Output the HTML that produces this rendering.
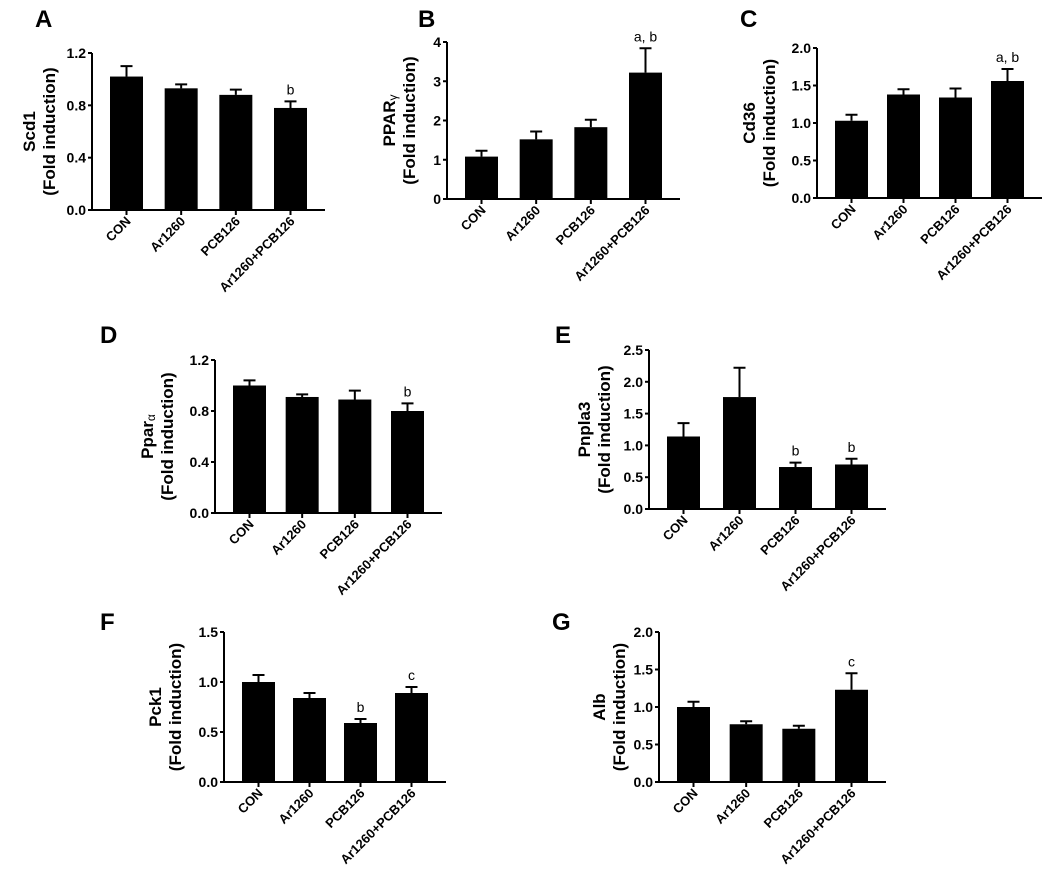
<!DOCTYPE html>
<html><head><meta charset="utf-8">
<style>
html,body{margin:0;padding:0;background:#fff;}
svg{display:block;font-family:"Liberation Sans",Arial,sans-serif;}
</style></head>
<body>
<svg id="fig" width="1050" height="879" viewBox="0 0 1050 879" xmlns="http://www.w3.org/2000/svg"></svg>
<script>
const categories = ["CON","Ar1260","PCB126","Ar1260+PCB126"];
const scd1Values = [1.02,0.93,0.88,0.78];
const scd1Errors = [0.08,0.03,0.04,0.05];
const scd1Marks = ["","","","b"];
const ppargValues = [1.08,1.52,1.83,3.22];
const ppargErrors = [0.15,0.20,0.19,0.62];
const ppargMarks = ["","","","a, b"];
const cd36Values = [1.03,1.38,1.34,1.56];
const cd36Errors = [0.08,0.07,0.12,0.16];
const cd36Marks = ["","","","a, b"];
const pparaValues = [1.00,0.91,0.89,0.80];
const pparaErrors = [0.04,0.02,0.07,0.06];
const pparaMarks = ["","","","b"];
const pnpla3Values = [1.14,1.76,0.66,0.70];
const pnpla3Errors = [0.21,0.46,0.07,0.09];
const pnpla3Marks = ["","","b","b"];
const pck1Values = [1.00,0.84,0.59,0.89];
const pck1Errors = [0.07,0.05,0.04,0.06];
const pck1Marks = ["","","b","c"];
const albValues = [1.00,0.77,0.71,1.23];
const albErrors = [0.07,0.04,0.04,0.22];
const albMarks = ["","","","c"];
const ticks12 = ["0.0","0.4","0.8","1.2"];
const ticks4 = ["0","1","2","3","4"];
const ticks20 = ["0.0","0.5","1.0","1.5","2.0"];
const ticks25 = ["0.0","0.5","1.0","1.5","2.0","2.5"];
const ticks15 = ["0.0","0.5","1.0","1.5"];

const NS="http://www.w3.org/2000/svg";
const svg=document.getElementById('fig');
function mk(tag,attrs,parent){const e=document.createElementNS(NS,tag);for(const k in attrs)e.setAttribute(k,attrs[k]);(parent||svg).appendChild(e);return e;}

const panels=[
 {id:'a',letter:'A',lx:35,ly:27,ax:92,end:325,top:53,bot:210,ticks:ticks12,gene:'Scd1',sub:'',vals:scd1Values,errs:scd1Errors,marks:scd1Marks,tx:40},
 {id:'b',letter:'B',lx:418,ly:27,ax:447,end:680,top:42,bot:199,ticks:ticks4,gene:'PPAR',sub:'γ',vals:ppargValues,errs:ppargErrors,marks:ppargMarks,tx:400},
 {id:'c',letter:'C',lx:740,ly:27,ax:817,end:1042,top:48,bot:198,ticks:ticks20,gene:'Cd36',sub:'',vals:cd36Values,errs:cd36Errors,marks:cd36Marks,tx:760},
 {id:'d',letter:'D',lx:100,ly:343,ax:215,end:442,top:360,bot:513,ticks:ticks12,gene:'Ppar',sub:'α',vals:pparaValues,errs:pparaErrors,marks:pparaMarks,tx:158},
 {id:'e',letter:'E',lx:555,ly:343,ax:649,end:886,top:350,bot:509,ticks:ticks25,gene:'Pnpla3',sub:'',vals:pnpla3Values,errs:pnpla3Errors,marks:pnpla3Marks,tx:595},
 {id:'f',letter:'F',lx:100,ly:630,ax:224,end:446,top:632,bot:782,ticks:ticks15,gene:'Pck1',sub:'',vals:pck1Values,errs:pck1Errors,marks:pck1Marks,tx:166},
 {id:'g',letter:'G',lx:552,ly:630,ax:659,end:886,top:632,bot:782,ticks:ticks20,gene:'Alb',sub:'',vals:albValues,errs:albErrors,marks:albMarks,tx:610}
];

panels.forEach(p=>{
 const g=mk('g',{});
 
 
 const ymax=parseFloat(p.ticks[p.ticks.length-1]);
 const y=v=>p.bot-(v/ymax)*(p.bot-p.top);
 const w=p.end-p.ax, bw=33, s=(w-36-bw)/3;
 const xL=i=>p.ax+18+i*s;
 const L=mk('text',{x:p.lx,y:p.ly,'font-size':24,'font-weight':'bold'},g);L.textContent=p.letter;
 
 
 const ya=mk('line',{x1:p.ax,y1:p.top,x2:p.ax,y2:p.bot+1,stroke:'#000','stroke-width':2},g);
 
 
 const xa=mk('line',{x1:p.ax-1,y1:p.bot,x2:p.end,y2:p.bot,stroke:'#000','stroke-width':2},g);
 
 
 p.ticks.forEach(t=>{
  const yy=y(parseFloat(t));
  mk('line',{x1:p.ax-4,y1:yy,x2:p.ax,y2:yy,stroke:'#000','stroke-width':2},g);
  const tl=mk('text',{x:p.ax-6,y:yy+5,'font-size':14,'font-weight':'bold','text-anchor':'end'},g);tl.textContent=t;
  
  
 });
 const cy=(p.top+p.bot)/2;
 const tt=mk('text',{transform:`translate(${p.tx},${cy}) rotate(-90)`,'font-size':17,'font-weight':'bold','text-anchor':'middle'},g);
 
 
 const t1=mk('tspan',{x:0,y:-5},tt);t1.textContent=p.gene;
 if(p.sub){const t2=mk('tspan',{'font-size':12,'font-weight':'normal',dy:2},tt);t2.textContent=p.sub;}
 const t3=mk('tspan',{x:0,y:15},tt);t3.textContent='(Fold induction)';
 categories.forEach((c,i)=>{
  const x0=xL(i),cx=x0+bw/2,v=p.vals[i],e=p.errs[i];
  const r=mk('rect',{x:x0,y:y(v),width:bw,height:p.bot-y(v),fill:'#000'},g);
  
  
  const eb=mk('path',{d:`M${cx},${y(v)}V${y(v+e)}M${cx-6},${y(v+e)}H${cx+6}`,stroke:'#000','stroke-width':2,fill:'none'},g);
  
  
  mk('line',{x1:cx,y1:p.bot,x2:cx,y2:p.bot+5,stroke:'#000','stroke-width':2},g);
  const cl=mk('text',{transform:`translate(${cx+5},${p.bot+12}) rotate(-45)`,'font-size':13,'font-weight':'bold','text-anchor':'end'},g);cl.textContent=c;
  
  
  if(p.marks[i]){
   const m=mk('text',{x:cx,y:y(v+e)-7,'font-size':14,'text-anchor':'middle'},g);m.textContent=p.marks[i];
   
   
  }
 });
});
</script>
</body></html>
